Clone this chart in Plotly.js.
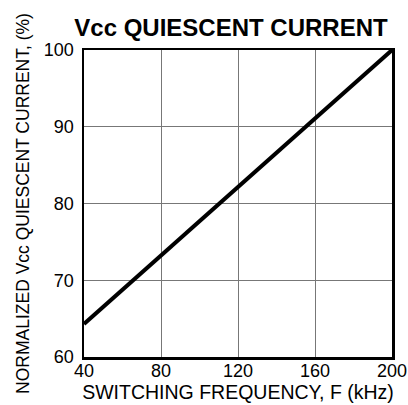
<!DOCTYPE html>
<html>
<head>
<meta charset="utf-8">
<script src="https://cdn.plot.ly/plotly-3.0.1.min.js"></script>
<style>html,body{margin:0;padding:0;background:#fff;}#chart{width:408px;height:405px;}</style>
</head>
<body>
<div id="chart"></div>
<script>
var frequencyKHz = [40, 80, 120, 160, 200];
var normalizedCurrent = [64.3, 73.2, 82.1, 91.0, 100];
var xTicks = [40, 80, 120, 160, 200];
var yTicks = [60, 70, 80, 90, 100];

var font = 'Liberation Sans, Arial, Helvetica, sans-serif';

var trace = {
  x: frequencyKHz,
  y: normalizedCurrent,
  mode: 'lines',
  line: {color: '#000', width: 4},
  hoverinfo: 'skip'
};

var layout = {
  width: 408, height: 405,
  margin: {l: 84, r: 16, t: 50, b: 48},
  paper_bgcolor: '#fff', plot_bgcolor: '#fff',
  showlegend: false,
  font: {family: font, color: '#000', size: 18},
  title: {
    text: '<b>Vcc QUIESCENT CURRENT</b>',
    font: {family: font, size: 24, color: '#000'},
    xref: 'container', x: 231/408, xanchor: 'center',
    yref: 'container', y: 1 - 28/405, yanchor: 'middle'
  },
  xaxis: {
    range: [40, 200],
    tickvals: xTicks,
    ticktext: xTicks.map(String),
    ticks: '',
    ticklabelstandoff: -4,
    showgrid: true, gridcolor: '#777', gridwidth: 1,
    showline: true, linecolor: '#000', linewidth: 2.5, mirror: true,
    zeroline: false,
    tickfont: {size: 18},
    title: {text: 'SWITCHING FREQUENCY, F (kHz)', font: {size: 19.5}, standoff: 0},
    automargin: false
  },
  yaxis: {
    range: [60, 100],
    tickvals: yTicks,
    ticktext: yTicks.map(String),
    ticks: '',
    ticklabelstandoff: 4,
    showgrid: true, gridcolor: '#777', gridwidth: 1,
    showline: true, linecolor: '#000', linewidth: 2.5, mirror: true,
    zeroline: false,
    tickfont: {size: 18},
    title: {text: 'NORMALIZED Vcc QUIESCENT CURRENT, (%)', font: {size: 17.5}, standoff: 10},
    automargin: false
  }
};

Plotly.newPlot('chart', [trace], layout, {displayModeBar: false, staticPlot: true});
</script>
</body>
</html>
